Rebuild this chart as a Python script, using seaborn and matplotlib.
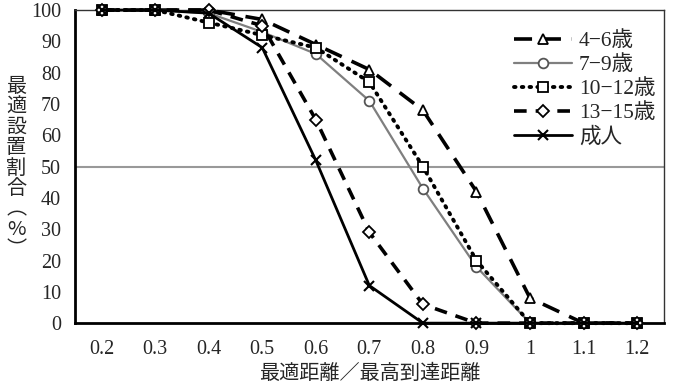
import numpy as np
import pandas as pd
import seaborn as sns
import matplotlib.pyplot as plt

# --------------------------- DATA ---------------------------
ratio = [0.2, 0.3, 0.4, 0.5, 0.6, 0.7, 0.8, 0.9, 1.0, 1.1, 1.2]
tick_labels = ['0.2', '0.3', '0.4', '0.5', '0.6', '0.7', '0.8', '0.9', '1', '1.1', '1.2']
groups = ['4−6歳', '7−9歳', '10−12歳', '13−15歳', '成人']

age_4_6 = [100, 100, 100, 97, 89, 81, 68, 42, 8, 0, 0]
age_7_9 = [100, 100, 99, 93, 86, 71, 43, 18, 0, 0, 0]
age_10_12 = [100, 100, 96, 92, 88, 77, 50, 20, 0, 0, 0]
age_13_15 = [100, 100, 100, 95, 65, 29, 6, 0, 0, 0, 0]
adult = [100, 100, 99, 88, 52, 12, 0, 0, 0, 0, 0]

series = [age_4_6, age_7_9, age_10_12, age_13_15, adult]

# --------------------------- STYLES ---------------------------
styles = {
    '4−6歳': dict(color='black', ls=(0, (5, 3)), lw=2.6, marker='^', ms=7),
    '7−9歳': dict(color='#7f7f7f', ls='-', lw=1.6, marker='o', ms=7, mec='#555555'),
    '10−12歳': dict(color='black', ls=(0, (0.4, 1.6)), lw=2.8, marker='s', ms=7,
                   dash_capstyle='round'),
    '13−15歳': dict(color='black', ls=(0, (3.5, 2.5)), lw=2.6, marker='D', ms=6),
    '成人': dict(color='black', ls='-', lw=2.0, marker='x', ms=7, mew=1.5),
}

df = pd.concat(
    [pd.DataFrame({'ratio': ratio, 'pct': vals, 'group': g}) for g, vals in zip(groups, series)],
    ignore_index=True,
)

# --------------------------- PLOT ---------------------------
sns.set_style('white')
plt.rcParams['font.family'] = ['Liberation Serif', 'Noto Sans CJK JP']

fig = plt.figure(figsize=(6.74, 3.87), dpi=100)
ax = fig.add_axes([0.111, 0.165, 0.874, 0.809])

ax.axhline(50, color='#999999', lw=1.5, zorder=1)

handles = []
for g in groups:
    st = dict(styles[g])
    sub = df[df['group'] == g]
    n_before = len(ax.lines)
    sns.lineplot(data=sub, x='ratio', y='pct', ax=ax, color=st.pop('color'),
                 linestyle=st.pop('ls'), linewidth=st.pop('lw'),
                 markerfacecolor='white', markeredgecolor=st.pop('mec', 'black'),
                 markeredgewidth=st.pop('mew', 1.3), clip_on=False, zorder=3,
                 label=g, legend=False, **st)
    handles.append(ax.lines[n_before])

ax.set_xlim(0.15, 1.25)
ax.set_ylim(0, 100)
ax.set_yticks(np.arange(0, 101, 10))
ax.set_xticks(np.arange(0.15, 1.26, 0.1))
ax.set_xticklabels([])
ax.set_xticks(ratio, minor=True)
ax.set_xticklabels(tick_labels, minor=True)
ax.tick_params(axis='x', which='major', direction='inout', length=8, width=1.5)
ax.tick_params(axis='x', which='minor', length=0, pad=12, labelsize=14.5)
ax.tick_params(axis='y', direction='out', length=7, width=1.5, pad=3, labelsize=14.5)

for side in ['left', 'bottom']:
    ax.spines[side].set_linewidth(2.0)
    ax.spines[side].set_color('black')
for side in ['top', 'right']:
    ax.spines[side].set_linewidth(1.0)
    ax.spines[side].set_color('#333333')

ax.set_xlabel('最適距離／最高到達距離', fontsize=14.5, labelpad=4)
ax.set_ylabel('')
fig.text(0.024, 0.565, '\n'.join('最適設置割合︵%︶'), fontsize=14.5, ha='center', va='center',
         linespacing=0.96, family=['Noto Sans CJK JP', 'DejaVu Sans'])

ax.legend(handles=handles, labels=groups, loc='upper right', frameon=False,
          fontsize=15.5, handlelength=2.7, handletextpad=0.3, labelspacing=0.18,
          borderaxespad=0, bbox_to_anchor=(1.0, 0.96))

fig.savefig('out.png', dpi=100)
